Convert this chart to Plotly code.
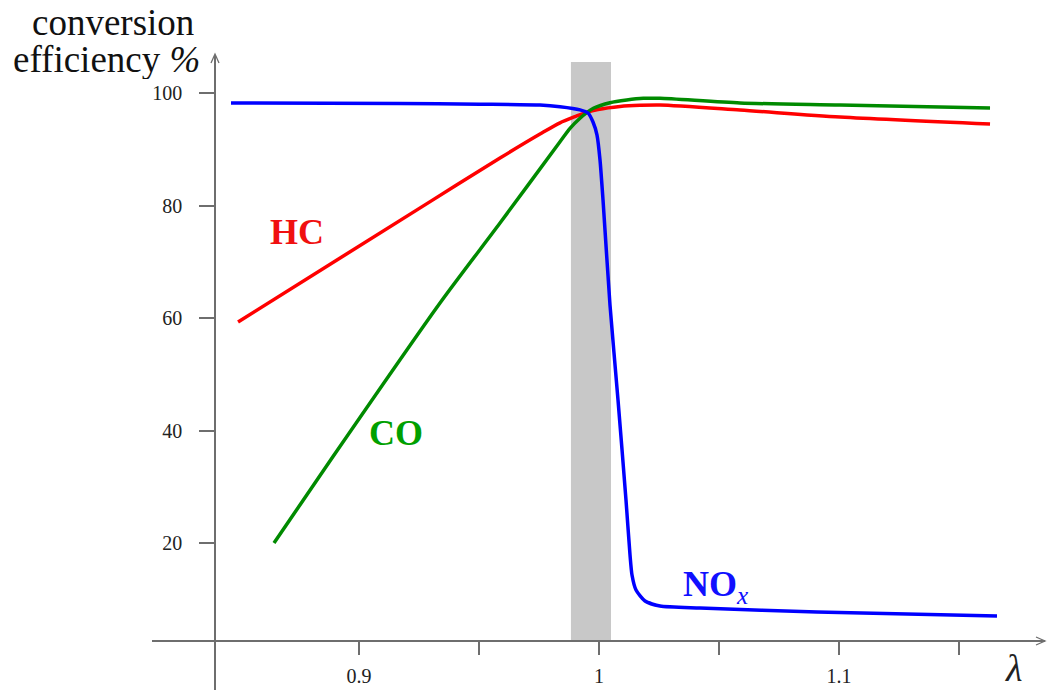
import plotly.graph_objects as go

# ---------------- data ----------------
nox_x = [0.84667, 0.91708, 0.95042, 0.97542, 0.98375, 0.99208, 0.99542, 0.9975, 0.99917,
         1.00042, 1.00167, 1.00458, 1.00792, 1.01125, 1.01292, 1.01375, 1.01542, 1.01917, 1.02542,
         1.04208, 1.09083, 1.16583]
nox_y = [98.22, 98.13, 98.0, 97.85, 97.55, 97.0, 96.44, 94.84, 92.53,
         88.09, 80.98, 62.31, 45.42, 27.64, 17.87, 14.31, 11.64, 9.69, 8.8,
         8.44, 7.73, 7.02]

hc_x = [0.8496, 0.9308, 0.95875, 0.97542, 0.98375, 0.99, 0.995, 0.99958, 1.00875, 1.01708,
        1.02542, 1.05875, 1.10042, 1.16292]
hc_y = [59.3, 81.0, 88.44, 92.7, 94.7, 95.8, 96.6, 97.07, 97.6, 97.81,
        97.87, 96.98, 95.73, 94.49]

co_x = [0.86458, 0.88875, 0.93375, 0.95875, 0.98375, 0.98792, 0.99208, 0.99488, 0.99763, 1.00458,
        1.01154, 1.01846, 1.02542, 1.05875, 1.10042, 1.16292]
co_y = [20.0, 35.11, 62.67, 76.89, 91.34, 93.72, 95.5, 96.5, 97.28, 98.28,
        98.76, 99.06, 99.06, 98.22, 97.87, 97.33]

x_tickvals = [0.9, 1.0, 1.1]
x_ticktext = ["0.9", "1", "1.1"]
x_minor_ticks = [0.95, 1.05, 1.15]
y_tickvals = [20, 40, 60, 80, 100]
y_ticktext = ["20", "40", "60", "80", "100"]

band_x = [0.9883, 1.005]
band_top = 105.5

# ---------------- layout geometry ----------------
W, H = 1047, 693
ML, MR, MT, MB = 152, 2, 55, 3
X_RANGE = [0.81375, 1.18583]
Y_RANGE = [-6.133, 106.756]
Y_AXIS_AT = 0.84      # x value where the vertical axis sits
X_AXIS_AT = 2.58      # y value where the horizontal axis sits

PW = W - ML - MR
PH = H - MT - MB

def px_x(p):
    return (p - ML) / PW

def px_y(p):
    return (H - MB - p) / PH

xpos = (Y_AXIS_AT - X_RANGE[0]) / (X_RANGE[1] - X_RANGE[0])
ypos = (X_AXIS_AT - Y_RANGE[0]) / (Y_RANGE[1] - Y_RANGE[0])

AX = "#6e6e6e"
SERIF = "Liberation Serif"

fig = go.Figure()
fig.add_trace(go.Scatter(x=hc_x, y=hc_y, mode="lines", line=dict(color="#ff0000", width=3.5, shape="spline", smoothing=0.8), hoverinfo="skip"))
fig.add_trace(go.Scatter(x=co_x, y=co_y, mode="lines", line=dict(color="#008a00", width=3.5, shape="spline", smoothing=0.7), hoverinfo="skip"))
fig.add_trace(go.Scatter(x=nox_x, y=nox_y, mode="lines", line=dict(color="#0000ff", width=3.5, shape="spline", smoothing=0.6), hoverinfo="skip"))

fig.add_shape(type="rect", xref="x", yref="y", x0=band_x[0], x1=band_x[1], y0=X_AXIS_AT, y1=band_top,
              fillcolor="#c8c8c8", line=dict(width=0), layer="below")

# arrowheads
fig.add_shape(type="path", xref="paper", yref="paper",
              path=f"M {px_x(211)} {px_y(63)} L {px_x(215)} {px_y(54)} L {px_x(219)} {px_y(63)}",
              line=dict(color=AX, width=1.3))
fig.add_shape(type="path", xref="paper", yref="paper",
              path=f"M {px_x(1036)} {px_y(637)} L {px_x(1045)} {px_y(641)} L {px_x(1036)} {px_y(645)}",
              line=dict(color=AX, width=1.3))

def note(x, y, text, size, color, xref="paper", yref="paper", xanchor="center", height=None):
    d = dict(x=x, y=y, xref=xref, yref=yref, text=text, showarrow=False,
             xanchor=xanchor, yanchor="middle",
             font=dict(family=SERIF, size=size, color=color))
    if height is not None:
        d["height"] = height
    return d

ann = [
    note(0.8742, 75.3, "<b>HC</b>", 36, "#f01010", "x", "y"),
    note(0.9154, 39.6, "<b>CO</b>", 36, "#00a000", "x", "y"),
    note(1.0340, 12.3, "<b>NO</b><sub><i>x</i></sub>", 36, "#1010ff", "x", "y", xanchor="left"),
    note(px_x(113), px_y(22), "conversion", 37, "#111111", height=32),
    note(px_x(106), px_y(59), "efficiency <i>%</i>", 37, "#111111", height=40),
    note(px_x(1013), px_y(668), "<i>λ</i>", 38, "#222222"),
]

fig.update_layout(
    width=W, height=H, autosize=False,
    margin=dict(l=ML, r=MR, t=MT, b=MB, pad=0),
    paper_bgcolor="white", plot_bgcolor="white",
    showlegend=False,
    annotations=ann,
    xaxis=dict(range=X_RANGE, anchor="free", position=ypos, showgrid=False, zeroline=False,
               showline=True, linecolor=AX, linewidth=1.5,
               ticks="outside", ticklen=13, tickwidth=1.5, tickcolor=AX,
               tickvals=x_tickvals, ticktext=x_ticktext, ticklabelstandoff=4,
               minor=dict(tickvals=x_minor_ticks, ticks="outside", ticklen=13, tickwidth=1.5,
                          tickcolor=AX, showgrid=False),
               tickfont=dict(family=SERIF, size=20, color="#222222")),
    yaxis=dict(range=Y_RANGE, anchor="free", position=xpos, showgrid=False, zeroline=False,
               showline=True, linecolor=AX, linewidth=1.5,
               ticks="outside", ticklen=15, tickwidth=1.5, tickcolor=AX,
               tickvals=y_tickvals, ticktext=y_ticktext, ticklabelstandoff=13,
               tickfont=dict(family=SERIF, size=20, color="#222222")),
)

fig.write_html("out.html", config={"displayModeBar": False})
